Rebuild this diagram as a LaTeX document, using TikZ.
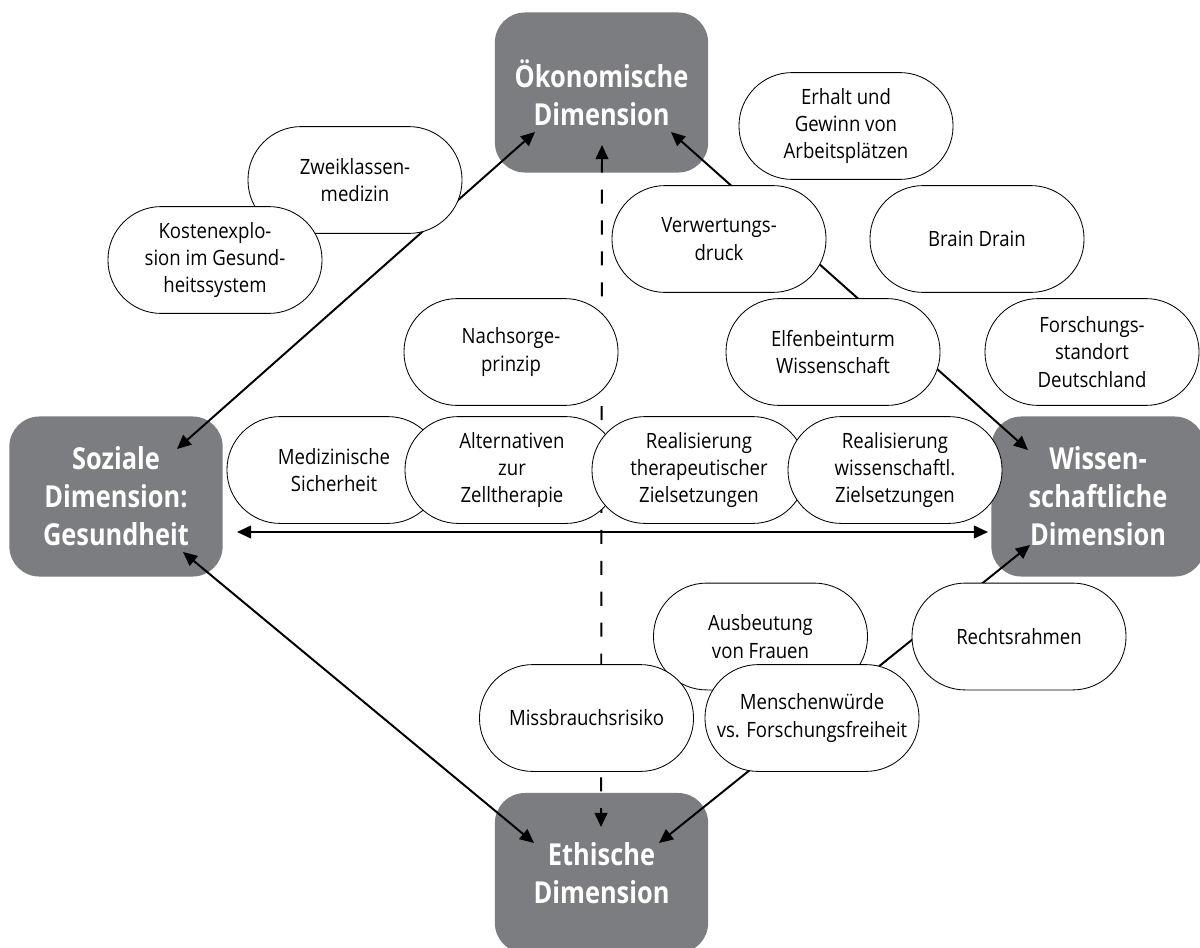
\documentclass[tikz,border=0pt]{standalone}
\usepackage{fontspec}
\setmainfont{Open Sans}
\newfontfamily\narrowsans[FakeStretch=0.84]{Open Sans}
\newfontfamily\topicsans[FakeStretch=0.88]{Open Sans}
\usetikzlibrary{arrows.meta}
\definecolor{dimgray}{RGB}{124,125,129}

\begin{document}
\begin{tikzpicture}[x=0.025cm, y=-0.025cm,
    dimbox/.style={fill=dimgray, rounded corners=0.75cm, minimum width=5.33cm, minimum height=4cm, align=center, text=white, font=\narrowsans\bfseries\fontsize{21.5}{27}\selectfont},
    topic/.style={draw, fill=white, line width=0.6pt, rounded corners=1.33cm, minimum width=5.35cm, minimum height=2.67cm, align=center, font=\topicsans\fontsize{15}{19.5}\selectfont},
    link/.style={line width=1.4pt, {Triangle[length=10pt,width=9pt]}-{Triangle[length=10pt,width=9pt]}}]
  \useasboundingbox (0,0) rectangle (1200,947);
  \node[dimbox] (oek) at (601.5,92.5) {Ökonomische\\Dimension};
  \node[dimbox] (soz) at (116,496.5) {Soziale\\Dimension:\\Gesundheit};
  \node[dimbox] (wiss) at (1098,496.5) {Wissen-\\schaftliche\\Dimension};
  \node[dimbox] (eth) at (601.5,873) {Ethische\\Dimension};
  \coordinate (oekL) at ([shift={(-66.5,39.5)}]oek.center);
  \coordinate (oekR) at ([shift={(69.5,39.5)}]oek.center);
  \coordinate (oekD) at ([shift={(0.5,52.5)}]oek.center);
  \coordinate (sozU) at ([shift={(61,-47.5)}]soz.center);
  \coordinate (sozB) at ([shift={(67,55.5)}]soz.center);
  \coordinate (sozE) at ([shift={(121,35.5)}]soz.center);
  \coordinate (wissU) at ([shift={(-70,-46.5)}]wiss.center);
  \coordinate (wissB) at ([shift={(-68,48.5)}]wiss.center);
  \coordinate (wissW) at ([shift={(-110,35.5)}]wiss.center);
  \coordinate (ethL) at ([shift={(-67.5,-30)}]eth.center);
  \coordinate (ethR) at ([shift={(57.5,-30)}]eth.center);
  \coordinate (ethU) at ([shift={(-0.5,-46)}]eth.center);
  \draw[link] (sozU) -- (oekL);
  \draw[link] (sozB) -- (ethL);
  \draw[link] (wissU) -- (oekR);
  \draw[link] (wissB) -- (ethR);
  \draw[link] (sozE) -- (wissW);
  \draw[link, dash pattern=on 10pt off 12pt] (oekD) -- (ethU);
  \node[topic] (zwei) at (355,180) {Zweiklassen-\\medizin};
  \node[topic] (kosten) at (215,260) {Kostenexplo-\\sion im Gesund-\\heitssystem};
  \node[topic] (erhalt) at (846,126) {Erhalt und\\Gewinn von\\Arbeitsplätzen};
  \node[topic] (verwert) at (719,239) {Verwertungs-\\druck};
  \node[topic] (brain) at (977,239) {Brain Drain};
  \node[topic] (nachsorge) at (511,352) {Nachsorge-\\prinzip};
  \node[topic] (elfen) at (833,352) {Elfenbeinturm\\Wissenschaft};
  \node[topic] (standort) at (1092,352) {Forschungs-\\standort\\Deutschland};
  \node[topic] (medsich) at (334,470) {Medizinische\\Sicherheit};
  \node[topic] (alternativ) at (512,470) {Alternativen\\zur\\Zelltherapie};
  \node[topic] (therapie) at (699,470) {Realisierung\\therapeutischer\\Zielsetzungen};
  \node[topic] (wissziel) at (895,470) {Realisierung\\wissenschaftl.\\Zielsetzungen};
  \node[topic] (ausbeut) at (760.5,636.5) {Ausbeutung\\von Frauen};
  \node[topic] (recht) at (1019,636.5) {Rechtsrahmen};
  \node[topic] (missbrauch) at (586.5,718) {Missbrauchsrisiko};
  \node[topic] (menschen) at (812,718) {Menschenwürde\\vs. Forschungsfreiheit};
\end{tikzpicture}
\end{document}
